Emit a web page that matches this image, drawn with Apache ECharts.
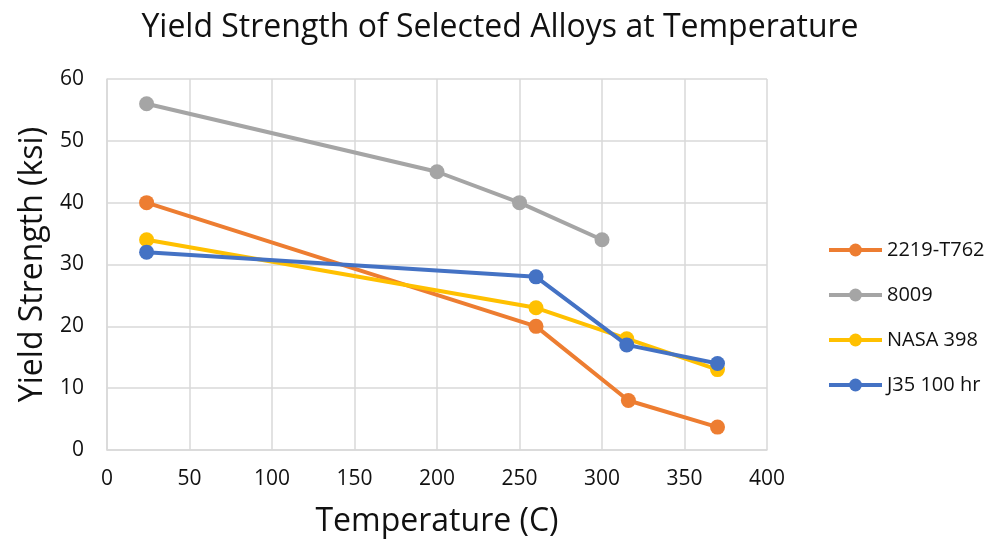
<!DOCTYPE html>
<html>
<head>
<meta charset="utf-8">
<script src="https://cdn.jsdelivr.net/npm/echarts@6/dist/echarts.min.js"></script>
<style>html,body{margin:0;padding:0;background:#fff}#c{width:1000px;height:543px}</style>
</head>
<body>
<div id="c"></div>
<script>
const seriesNames = ['2219-T762', '8009', 'NASA 398', 'J35 100 hr'];
const colors = ['#ED7D31', '#A5A5A5', '#FFC000', '#4472C4'];
const s2219 = [[24, 40], [260, 20], [316, 8], [370, 3.7]];
const s8009 = [[24, 56], [200, 45], [250, 40], [300, 34]];
const sNasa = [[24, 34], [260, 23], [315, 18], [370, 13]];
const sJ35 = [[24, 32], [260, 28], [315, 17], [370, 14]];
const allData = [s2219, s8009, sNasa, sJ35];
const font = '"Open Sans", Lato, sans-serif';

const chart = echarts.init(document.getElementById('c'));
chart.setOption({
  animation: false,
  title: {
    text: 'Yield Strength of Selected Alloys at Temperature',
    left: 495, top: 7, textAlign: 'center',
    textStyle: { fontFamily: font, fontSize: 32, fontWeight: 'normal', color: '#111' }
  },
  legend: {
    orient: 'vertical', left: 822, top: 235,
    itemWidth: 53, itemHeight: 16, itemGap: 25,
    lineStyle: { width: 4 },
    textStyle: { fontFamily: font, fontSize: 20, color: '#111' },
    data: seriesNames
  },
  grid: { left: 107, right: 233, top: 79, bottom: 93 },
  xAxis: {
    type: 'value', min: 0, max: 400, interval: 50,
    name: 'Temperature (C)', nameLocation: 'middle', nameGap: 56,
    nameTextStyle: { fontFamily: font, fontSize: 32, color: '#111' },
    axisLine: { lineStyle: { color: '#D9D9D9', width: 1.5 } },
    axisTick: { show: false },
    axisLabel: { fontFamily: font, fontSize: 21, color: '#111', margin: 19 },
    splitLine: { show: true, lineStyle: { color: '#D9D9D9', width: 1.5 } }
  },
  yAxis: {
    type: 'value', min: 0, max: 60, interval: 10,
    name: 'Yield Strength (ksi)', nameLocation: 'middle', nameGap: 58,
    nameTextStyle: { fontFamily: font, fontSize: 32, color: '#111' },
    axisLine: { show: true, lineStyle: { color: '#D9D9D9', width: 1.5 } },
    axisTick: { show: false },
    axisLabel: { fontFamily: font, fontSize: 21, color: '#111', margin: 23 },
    splitLine: { show: true, lineStyle: { color: '#D9D9D9', width: 1.5 } }
  },
  series: seriesNames.map((n, i) => ({
    name: n, type: 'line', data: allData[i],
    symbol: 'circle', symbolSize: 15,
    itemStyle: { color: colors[i] },
    lineStyle: { color: colors[i], width: 4 },
    z: [2, 1, 3, 4][i]
  }))
});
</script>
</body>
</html>
